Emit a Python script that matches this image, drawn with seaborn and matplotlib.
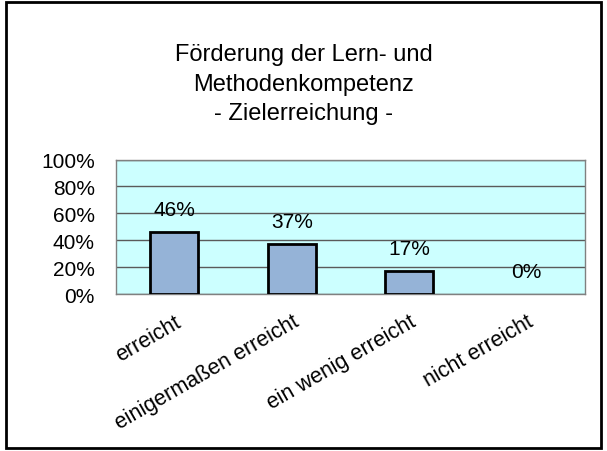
import matplotlib
matplotlib.use("Agg")
import matplotlib.pyplot as plt
from matplotlib.patches import Rectangle
import seaborn as sns
import pandas as pd

categories = ["erreicht", "einigermaßen erreicht", "ein wenig erreicht", "nicht erreicht"]
values = [46, 37, 17, 0]
y_ticks = [0, 20, 40, 60, 80, 100]
title_lines = ["Förderung der Lern- und", "Methodenkompetenz", "- Zielerreichung -"]

sns.set_theme(style="white")
plt.rcParams["font.family"] = ["Liberation Sans", "DejaVu Sans"]

W, H = 607, 452
fig = plt.figure(figsize=(W / 100, H / 100), dpi=100)
fig.patch.set_facecolor("white")

# plot area in pixel terms
left, right, top, bottom = 115.7, 585.0, 160.5, 295.3
ax = fig.add_axes([left / W, 1 - bottom / H, (right - left) / W, (bottom - top) / H])
ax.set_facecolor("#CCFFFF")

df = pd.DataFrame({"Kategorie": categories, "Anteil": values})
sns.barplot(data=df, x="Kategorie", y="Anteil", color="#95B3D7", saturation=1,
            width=0.41, edgecolor="black", linewidth=2, ax=ax, zorder=3)
for p in ax.patches:
    if p.get_height() == 0:
        p.set_linewidth(0)

ax.set_ylim(0, 100)
ax.set_xlim(-0.5, len(categories) - 0.5)
ax.set_yticks(y_ticks)
ax.set_yticklabels([f"{t}%" for t in y_ticks], fontsize=15, color="black")
ax.yaxis.grid(True, color="#5a5a5a", linewidth=1, zorder=0)
ax.set_axisbelow(True)

ax.set_xticks(range(len(categories)))
ax.set_xticklabels(categories, rotation=30, ha="right", va="top",
                   rotation_mode="anchor", fontsize=15.5, color="black")
ax.set_xticks([i - 0.5 for i in range(len(categories) + 1)], minor=True)
ax.tick_params(axis="x", which="major", length=0, pad=12)
ax.tick_params(axis="x", which="minor", length=6, width=1, color="#5a5a5a", direction="out")
ax.tick_params(axis="y", which="major", length=6, width=1, color="#5a5a5a", direction="out", pad=9)
for lbl in ax.get_xticklabels():
    lbl.set_x(lbl.get_position()[0])
ax.set_xlabel("")
ax.set_ylabel("")

for s in ax.spines.values():
    s.set_visible(True)
    s.set_color("#808080")
    s.set_linewidth(1)

for i, v in enumerate(values):
    ax.annotate(f"{v}%", (i, v), xytext=(0, 16.5), textcoords="offset points",
                ha="center", va="center", fontsize=15, color="black")

# three-line title, one baseline per line
for line, base in zip(title_lines, [61, 91, 120]):
    fig.text(0.5, 1 - base / H, line, ha="center", va="baseline",
             fontsize=17, color="black")

fig.patches.append(Rectangle((6 / W, 1 - 449 / H), (601 - 6) / W, (449 - 3) / H,
                             transform=fig.transFigure, fill=False,
                             edgecolor="black", linewidth=2))

fig.savefig("out.png", dpi=100)
